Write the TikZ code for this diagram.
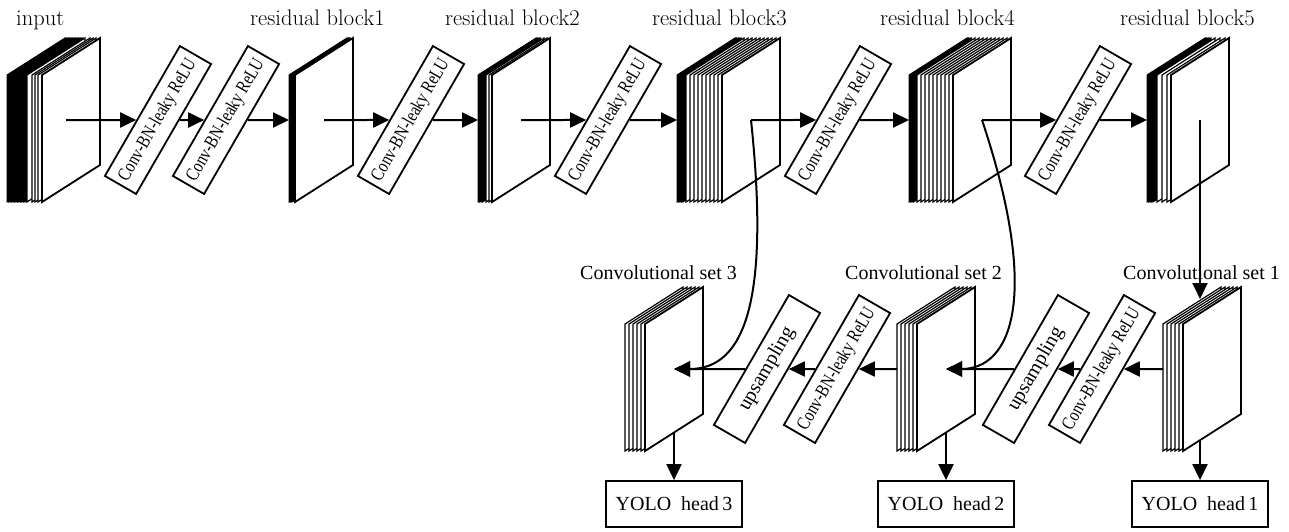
\documentclass[tikz,border=0pt]{standalone}
\usepackage{fontspec}
\usepackage{graphicx}
\usetikzlibrary{arrows.meta,calc}
\newfontfamily\tms{Liberation Serif}

% one sheet of a feature-map stack: top-left corner given, slanted parallelogram
\newcommand\fmsheet[3][]{\draw[#1] (#2,#3) -- ++(58,-37) -- ++(0,127) -- ++(-58,37) -- cycle;}
% condensed operation label
\newcommand\oplabel{\scalebox{0.8}[1]{Conv-BN-leaky ReLU}}

\tikzset{
  arr/.style={line width=2pt,-{Triangle[length=16pt,width=15pt]}},
  sheetfront/.style={draw=black,fill=white,line width=1.8pt,line join=miter},
  sheetback/.style={draw=black,fill=white,line width=1.2pt},
  sheetdark/.style={draw=black,fill=black,line width=1pt},
  opbox/.style={draw,line width=1.8pt,rotate=60,minimum width=150pt,minimum height=36pt,
    inner sep=0pt,font=\tms\fontsize{19}{22}\selectfont},
  headbox/.style={draw,line width=1.8pt,minimum width=136pt,minimum height=46pt,
    inner sep=0pt,font=\tms\fontsize{20}{24}\selectfont},
  blocklabel/.style={anchor=base west,inner sep=0pt,font=\fontsize{22.5}{26}\selectfont},
  setlabel/.style={anchor=base west,inner sep=0pt,font=\tms\fontsize{20}{24}\selectfont},
}

\begin{document}
\begin{tikzpicture}[x=1pt,y=-1pt]
\useasboundingbox (0,0) rectangle (1289,531);

% ---------- backbone: input and residual blocks ----------
% input
\foreach \d in {35,33.5,...,17} {\fmsheet[sheetdark]{42-\d}{75}}
\foreach \d in {15,10,7,4} {\fmsheet[sheetback]{42-\d}{75}}
\fmsheet[sheetfront]{42}{75}
% residual block 1
\foreach \d in {6,5,4,3} {\fmsheet[sheetdark]{295-\d}{75}}
\fmsheet[sheetfront]{295}{75}
% residual block 2
\foreach \d in {14,12.5,11,9.5} {\fmsheet[sheetdark]{492-\d}{75}}
\foreach \d in {6,3} {\fmsheet[sheetback]{492-\d}{75}}
\fmsheet[sheetfront]{492}{75}
% residual block 3
\foreach \d in {45,43.5,...,39} {\fmsheet[sheetdark]{722-\d}{75}}
\foreach \d in {36,32,...,4} {\fmsheet[sheetback]{722-\d}{75}}
\fmsheet[sheetfront]{722}{75}
% residual block 4
\foreach \d in {44,42.5,41,39.5} {\fmsheet[sheetdark]{953-\d}{75}}
\foreach \d in {36,32,...,4} {\fmsheet[sheetback]{953-\d}{75}}
\fmsheet[sheetfront]{953}{75}
% residual block 5
\foreach \d in {24,22.5,...,18} {\fmsheet[sheetdark]{1171-\d}{75}}
\foreach \d in {14,9,4} {\fmsheet[sheetback]{1171-\d}{75}}
\fmsheet[sheetfront]{1171}{75}

% ---------- convolutional sets ----------
\foreach \d in {20,16,...,4} {\fmsheet[sheetback]{645-\d}{324}}
\fmsheet[sheetfront]{645}{324}
\foreach \d in {20,16,...,4} {\fmsheet[sheetback]{917-\d}{324}}
\fmsheet[sheetfront]{917}{324}
\foreach \d in {20,16,...,4} {\fmsheet[sheetback]{1183-\d}{324}}
\fmsheet[sheetfront]{1183}{324}

% ---------- anchor points on the stacks ----------
\coordinate (in-c) at (66,120);
\coordinate (b1-in) at (289,120);  \coordinate (b1-c) at (324,120);
\coordinate (b2-in) at (478,120);  \coordinate (b2-c) at (521,120);
\coordinate (b3-in) at (677,120);  \coordinate (b3-c) at (751,120);
\coordinate (b4-in) at (909,120);  \coordinate (b4-c) at (982,120);
\coordinate (b5-in) at (1147,120); \coordinate (b5-c) at (1200,120);
\coordinate (c1-top) at (1200,299); \coordinate (c1-out) at (1163,369);
\coordinate (c1-bot) at (1200,440);
\coordinate (c2-c) at (946,369);   \coordinate (c2-out) at (897,369);
\coordinate (c2-bot) at (946,432.5);
\coordinate (c3-c) at (674,369);   \coordinate (c3-bot) at (674,432.5);

% ---------- operation boxes ----------
\node[opbox] (op1) at (158,120) {\oplabel};
\node[opbox] (op2) at (226,120) {\oplabel};
\node[opbox] (op3) at (411,120) {\oplabel};
\node[opbox] (op4) at (608,120) {\oplabel};
\node[opbox] (op5) at (838,120) {\oplabel};
\node[opbox] (op6) at (1078,120) {\oplabel};
\node[opbox] (op7) at (1102,369) {\oplabel};
\node[opbox,font=\tms\fontsize{20}{24}\selectfont] (up1) at (1036,369) {upsampling};
\node[opbox] (op8) at (837,369) {\oplabel};
\node[opbox,font=\tms\fontsize{20}{24}\selectfont] (up2) at (767,369) {upsampling};

% ---------- detection heads ----------
\node[headbox] (h3) at (674,504) {YOLO\hspace{0.5em}head\,3};
\node[headbox] (h2) at (946,504) {YOLO\hspace{0.5em}head\,2};
\node[headbox] (h1) at (1200,504) {YOLO\hspace{0.5em}head\,1};

% ---------- labels ----------
\node[blocklabel] (lin) at (16,25) {input};
\node[blocklabel] (lb1) at (250,25) {residual block1};
\node[blocklabel] (lb2) at (445,25) {residual block2};
\node[blocklabel] (lb3) at (652,25) {residual block3};
\node[blocklabel] (lb4) at (880,25) {residual block4};
\node[blocklabel] (lb5) at (1120,25) {residual block5};
\node[setlabel] (ls3) at (580,279) {Convolutional set 3};
\node[setlabel] (ls2) at (845,279) {Convolutional set 2};
\node[setlabel] (ls1) at (1123,279) {Convolutional set 1};

% ---------- backbone flow ----------
\draw[arr] (in-c) -- (op1);
\draw[arr] (op1) -- (op2);
\draw[arr] (op2) -- (b1-in);
\draw[arr] (b1-c) -- (op3);
\draw[arr] (op3) -- (b2-in);
\draw[arr] (b2-c) -- (op4);
\draw[arr] (op4) -- (b3-in);
\draw[arr] (b3-c) -- (op5);
\draw[arr] (op5) -- (b4-in);
\draw[arr] (b4-c) -- (op6);
\draw[arr] (op6) -- (b5-in);

% ---------- neck flow ----------
\draw[arr] (b5-c) -- (c1-top);
\draw[arr] (c1-out) -- (op7);
\draw[arr] (op7) -- (up1);
\draw[arr] (up1) -- (c2-c);
\draw[arr] (c2-out) -- (op8);
\draw[arr] (op8) -- (up2);
\draw[arr] (up2) -- (c3-c);

% skip connections from the backbone
\draw[arr] (b3-c) .. controls +(19,180) and +(71,0) .. (c3-c);
\draw[arr] (b4-c) .. controls +(60,180) and +(64,0) .. (c2-c);

% ---------- outputs ----------
\draw[arr] (c1-bot) -- (h1);
\draw[arr] (c2-bot) -- (h2);
\draw[arr] (c3-bot) -- (h3);
\end{tikzpicture}
\end{document}
